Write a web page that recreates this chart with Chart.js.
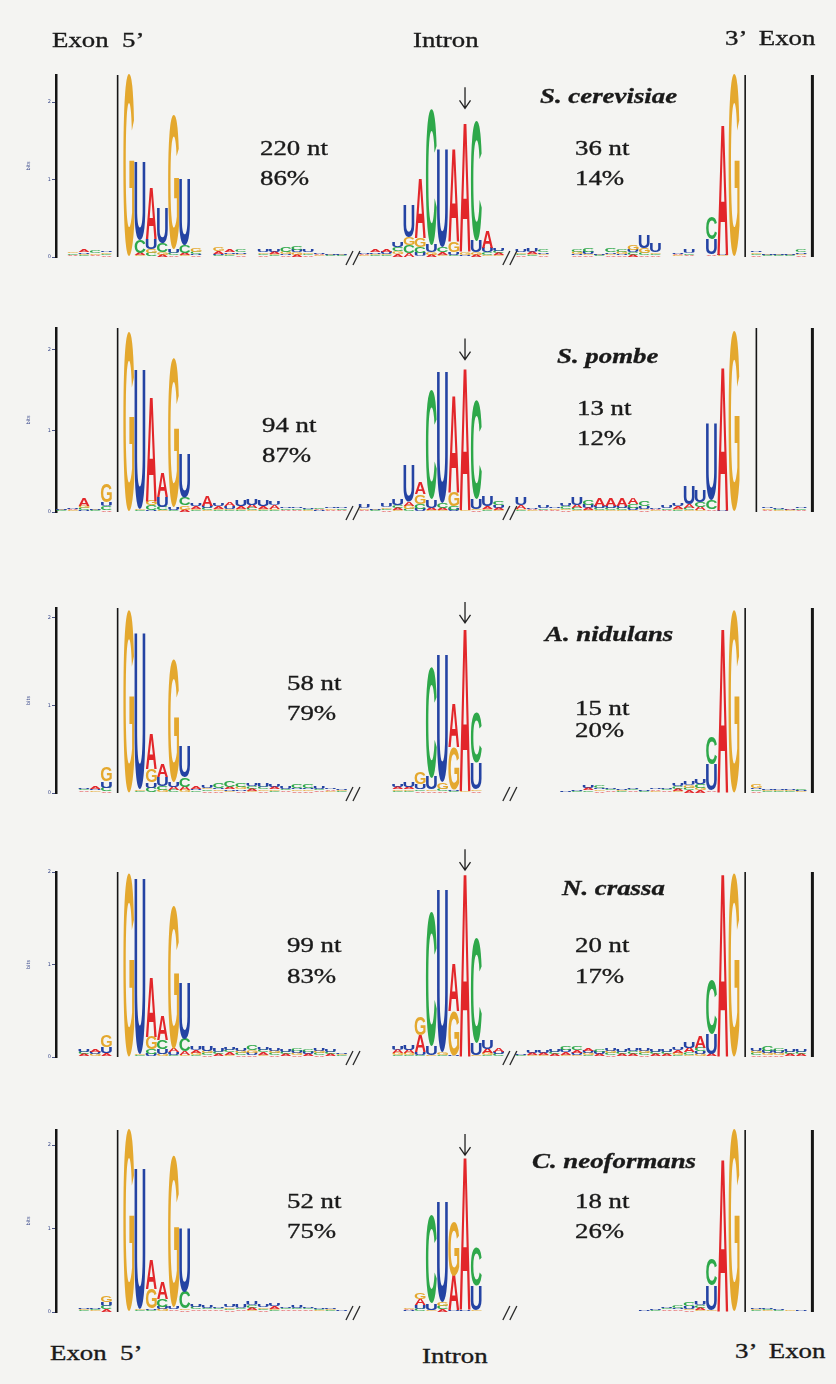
<!DOCTYPE html>
<html>
<head>
<meta charset="utf-8">
<script src="https://cdn.jsdelivr.net/npm/chart.js@4.4.1/dist/chart.umd.min.js"></script>
<style>
html, body { margin: 0; padding: 0; background: #f4f4f2; }
#page { position: relative; width: 836px; height: 1384px; overflow: hidden; background: #f4f4f2; }
#page canvas { position: absolute; left: 0; }
.lbl {
    position: absolute; white-space: pre; color: #1a1a1a;
    font-family: "Liberation Serif", "Times New Roman", serif;
    font-size: 22px; line-height: 22px;
    -webkit-text-stroke: 0.35px #1a1a1a;
    transform: scaleX(1.22); transform-origin: 0 0;
}
.sp { font-weight: bold; font-style: italic; }
</style>
</head>
<body>
<div id="page"></div>
<script>
// bases in column order of every tuple: [A, C, G, U] (bits)
var BASES = ['A', 'C', 'G', 'U'];
var _ = null;

var speciesNames = ['S. cerevisiae', 'S. pombe', 'A. nidulans', 'N. crassa', 'C. neoformans'];
var leftLength = ['220 nt', '94 nt', '58 nt', '99 nt', '52 nt'];
var leftShare = ['86%', '87%', '79%', '83%', '75%'];
var rightLength = ['36 nt', '13 nt', '15 nt', '20 nt', '18 nt'];
var rightShare = ['14%', '12%', '20%', '17%', '26%'];
var regionLabels = ['Exon  5\u2019', 'Intron', '3\u2019  Exon'];
var yTicks = [0, 1, 2];

// 68 positions per logo: exon 5' | intron 5' ... // ... branch ... // ... 3' | exon 3' |
var cerevisiae = [
    _, [.02,.02,.02,.01], [.03,.02,.02,.02], [.02,.03,.02,.01], [.02,.02,.02,.02], _, [0,0,2.35,0], [.03,.17,.02,1.0], [.67,.05,.05,.13], [.03,.12,.03,.45],
    [.02,.03,1.74,.05], [.03,.1,.02,.86], [.02,.03,.05,.02], _, [.04,.02,.05,.02], [.03,.02,.02,.02], [.02,.03,.02,.02], _, [.02,.02,.02,.04], [.03,.02,.02,.03],
    [.02,.06,.03,.02], [.03,.05,.03,.03], [.02,.02,.02,.03], [.02,.01,.01,.02], [.01,.01,.01,.02], [.01,.01,.01,.01], _, [.02,.01,.01,.02], [.03,.02,.02,.02], [.04,.02,.02,.03],
    [.04,.05,.04,.06], [.05,.1,.1,.41], [.77,.08,.12,.05], [.03,1.76,.03,.1], [.04,.06,.03,1.25], [1.2,.03,.14,.03], [1.68,.01,.03,.02], [.03,1.55,.03,.15], [.22,.04,.02,.06], [.03,.03,.02,.04],
    _, [.02,.02,.02,.03], [.03,.02,.02,.05], [.02,.03,.02,.02], _, _, [.02,.04,.03,.02], [.02,.05,.02,.03], [.01,.01,.01,.01], [.02,.05,.02,.02],
    [.02,.04,.03,.02], [.03,.03,.07,.03], [.02,.03,.07,.17], [.02,.02,.02,.12], _, [.02,.01,.01,.02], [.02,.02,.01,.05], _, [.02,.28,.01,.2], [1.7,.01,.01,.01],
    [0,0,2.35,0], _, [.02,.02,.02,.02], [.01,.01,.01,.01], [.01,.01,.01,.01], [.01,.01,.01,.01], [.02,.03,.02,.02], _
];
var pombe = [
    [.01,.01,.01,.01], [.02,.01,.01,.02], [.1,.03,.03,.02], [.01,.01,.01,.01], [.02,.05,.22,.05], _, [0,0,2.22,0], [.01,.01,.02,1.72], [1.3,.06,.06,.02], [.3,.04,.02,.13],
    [.01,.02,1.84,.03], [.03,.1,.05,.55], [.03,.02,.02,.03], [.12,.03,.02,.03], [.03,.02,.02,.03], [.04,.02,.02,.03], [.03,.02,.02,.08], [.04,.03,.02,.08], [.03,.02,.02,.08], [.04,.02,.02,.05],
    [.02,.02,.01,.02], [.02,.02,.01,.02], [.01,.02,.01,.02], [.02,.02,.01,.01], [.02,.01,.02,.02], [.02,.02,.01,.02], _, [.02,.01,.02,.04], [.01,.01,.01,.01], [.02,.02,.02,.05],
    [.03,.03,.02,.08], [.05,.04,.04,.45], [.15,.06,.12,.04], [.03,1.35,.02,.1], [.03,.06,.02,1.62], [1.2,.04,.17,.03], [1.77,.01,.01,0], [.02,1.22,.02,.12], [.03,.02,.02,.12], [.03,.04,.02,.03],
    _, [.04,.02,.02,.1], [.02,.01,.01,.02], [.02,.02,.01,.03], [.02,.01,.02,.02], [.02,.03,.02,.03], [.04,.03,.02,.1], [.03,.06,.02,.04], [.09,.03,.02,.03], [.09,.03,.02,.03],
    [.1,.03,.02,.03], [.08,.05,.02,.03], [.02,.06,.02,.03], [.02,.01,.01,.02], [.02,.02,.01,.03], [.03,.02,.02,.03], [.05,.03,.02,.22], [.04,.06,.02,.14], [.02,.12,.01,.95], [1.78,0,0,.02],
    [0,0,2.24,0], _, _, [.02,.01,.02,.02], [.01,.02,.01,.02], [.02,.01,.01,.01], [.02,.02,.01,.02], _
];
var nidulans = [
    _, _, [.02,.02,.01,.02], [.03,.01,.02,.02], [.02,.04,.17,.07], _, [0,0,2.09,0], [.01,.01,.02,1.78], [.4,.06,.15,.06], [.15,.05,.03,.1],
    [.04,.03,1.4,.06], [.04,.11,.03,.36], [.03,.02,.01,.02], [.02,.02,.02,.03], [.02,.06,.02,.02], [.03,.07,.02,.02], [.02,.05,.03,.02], [.03,.03,.02,.03], [.02,.03,.02,.04], [.03,.02,.02,.03],
    [.02,.02,.01,.03], [.02,.04,.02,.02], [.02,.04,.02,.02], [.02,.02,.01,.03], [.02,.01,.01,.02], [.01,.01,.01,.02], _, _, _, _,
    [.03,.02,.02,.03], [.03,.02,.02,.06], [.02,.02,.14,.06], [.02,1.26,.02,.14], [.02,.03,.08,1.45], [.51,.02,.48,.02], [1.87,.01,.01,0], [.02,.57,.02,.3], _, _,
    _, _, _, _, _, [.01,0,0,.01], [.01,.01,0,.01], [.03,.02,.01,.03], [.02,.03,.02,.02], [.02,.02,.01,.02],
    [.01,.01,.01,.01], [.02,.02,.01,.02], [.01,.01,0,.01], [.02,.01,.01,.02], [.02,.02,.01,.02], [.03,.03,.02,.03], [.03,.03,.03,.04], [.03,.04,.03,.06], [.02,.32,.01,.3], [1.88,0,0,.01],
    [0,0,2.09,0], _, [.02,.02,.04,.02], [.01,.01,.01,.01], [.01,.01,.01,.01], [.01,.01,.01,.01], [.01,.02,.01,.01], _
];
var crassa = [
    _, _, [.02,.02,.01,.02], [.03,.01,.02,.02], [.03,.01,.12,.07], _, [0,0,1.99,0], [.01,.01,.01,1.9], [.65,.05,.14,.03], [.27,.1,.03,.05],
    [.04,.02,1.55,.03], [.04,.14,.02,.61], [.03,.02,.02,.04], [.02,.02,.02,.05], [.02,.02,.01,.04], [.03,.03,.02,.03], [.02,.02,.02,.03], [.02,.06,.03,.02], [.03,.03,.02,.03], [.02,.02,.02,.02],
    [.02,.02,.01,.02], [.02,.03,.02,.02], [.02,.03,.01,.02], [.02,.02,.02,.02], [.02,.02,.01,.02], [.01,.01,.01,.01], _, [.01,0,0,0], [.01,0,0,0], _,
    [.04,.02,.02,.04], [.04,.02,.02,.05], [.18,.02,.2,.03], [.01,1.45,.01,.1], [.01,.01,.03,1.75], [.52,.01,.48,.01], [2.0,0,0,0], [.01,1.14,.01,.13], [.05,.02,.02,.09], [.04,.02,.01,.02],
    _, [.01,.01,0,.01], [.02,.01,.01,.02], [.02,.01,.01,.02], [.02,.02,.01,.02], [.03,.04,.02,.03], [.03,.04,.02,.02], [.03,.02,.02,.02], [.02,.03,.01,.02], [.02,.02,.02,.02],
    [.02,.02,.01,.02], [.02,.03,.01,.03], [.02,.02,.02,.02], [.02,.02,.01,.03], [.02,.02,.01,.02], [.03,.02,.02,.03], [.05,.03,.02,.07], [.12,.04,.03,.03], [.02,.58,.01,.22], [2.0,0,0,0],
    [0,0,1.99,0], _, [.02,.02,.02,.02], [.02,.05,.02,.02], [.02,.03,.02,.02], [.02,.02,.01,.03], [.02,.02,.01,.02], _
];
var neoformans = [
    _, _, [.01,.01,.01,.01], [.01,.02,.01,.02], [.03,.04,.08,.05], _, [0,0,2.18,0], [.01,.01,.01,1.68], [.36,.02,.24,.02], [.2,.1,.03,.03],
    [.02,.01,1.82,.03], [.02,.2,.02,.76], [.02,.03,.01,.03], [.02,.02,.01,.03], [.02,.02,.01,.02], [.02,.02,.02,.03], [.02,.02,.01,.04], [.03,.03,.02,.04], [.02,.02,.02,.03], [.03,.02,.02,.03],
    [.02,.02,.01,.02], [.02,.02,.01,.03], [.02,.02,.01,.02], [.01,.02,.01,.02], [.01,.01,.01,.01], [.01,0,0,.01], _, _, _, _,
    _, [.02,.01,.02,.01], [.07,.03,.08,.05], [.01,1.06,.01,.08], [.03,.04,.05,1.2], [.42,.01,.64,.01], [1.84,0,.01,.01], [.01,.46,.01,.3], _, _,
    _, _, _, _, _, _, _, _, _, _,
    _, _, [.01,0,0,.01], [.01,.01,0,.01], [.02,.02,.01,.02], [.02,.03,.01,.02], [.02,.04,.02,.03], [.03,.03,.02,.04], [.01,.32,.01,.3], [1.85,0,0,0],
    [0,0,2.18,0], _, [.01,.01,.01,.01], [.01,.02,.01,.02], [.01,.01,0,.01], [.01,0,.01,0], [0,.01,0,.01], _
];
var logos = [cerevisiae, pombe, nidulans, crassa, neoformans];

// exon/intron boundaries, sequence breaks and branch point, as position indexes
var innerBounds = [[5, 61], [5, 62], [5, 61], [5, 61], [5, 61]];
var outerBound = 67;
var breaks = [26, 40];
var branchPoint = 36;
var arrowTip = [1.92, 1.88, 1.94, 2.02, 1.88];

// layout of each panel on the page
var panelTop = [75, 328, 608, 872, 1130];
var panelZero = [257, 512, 793, 1057, 1312];
var panelMax = [2.35, 2.27, 2.11, 2.0, 2.18];
var PAD_TOP = 40, PAD_BOTTOM = 16;

var COLORS = { A: '#e2262a', C: '#2ea84a', G: '#e4a82e', U: '#2443a3' };
var LETTER_FONT = 'bold 100px "Liberation Sans", Arial, sans-serif';

var glyphCache = {};
function glyphBox(ctx, ch) {
    if (!glyphCache[ch]) {
        ctx.save();
        ctx.font = LETTER_FONT;
        var m = ctx.measureText(ch);
        ctx.restore();
        glyphCache[ch] = {
            l: m.actualBoundingBoxLeft,
            w: m.actualBoundingBoxLeft + m.actualBoundingBoxRight,
            a: m.actualBoundingBoxAscent,
            h: m.actualBoundingBoxAscent + m.actualBoundingBoxDescent
        };
    }
    return glyphCache[ch];
}

// letter stretched to fill the bar rectangle
function drawGlyph(ctx, ch, x, y, w, h) {
    if (h < 0.25 || w <= 0) return;
    var g = glyphBox(ctx, ch);
    ctx.save();
    ctx.translate(x, y);
    ctx.scale(w / g.w, h / g.h);
    ctx.font = LETTER_FONT;
    ctx.textAlign = 'left';
    ctx.textBaseline = 'alphabetic';
    ctx.fillStyle = COLORS[ch];
    ctx.fillText(ch, g.l, g.a);
    ctx.restore();
}

function vline(ctx, x, top, bottom, width) {
    ctx.save();
    ctx.strokeStyle = '#151515';
    ctx.lineWidth = width;
    ctx.beginPath();
    ctx.moveTo(x, top);
    ctx.lineTo(x, bottom);
    ctx.stroke();
    ctx.restore();
}

var logoPlugin = {
    id: 'logo',
    afterDatasetsDraw: function(chart) {
        var ctx = chart.ctx;
        chart.data.datasets.forEach(function(ds, d) {
            chart.getDatasetMeta(d).data.forEach(function(bar, i) {
                if (!ds.data[i]) return;
                drawGlyph(ctx, ds.letters[i], bar.x - bar.width / 2, bar.y, bar.width, bar.base - bar.y);
            });
        });
    },
    afterDraw: function(chart, args, opts) {
        var ctx = chart.ctx;
        var xs = chart.scales.x, ys = chart.scales.y;
        var top = chart.chartArea.top;
        var base = ys.getPixelForValue(0);
        var k = opts.panel;

        innerBounds[k].forEach(function(idx) {
            vline(ctx, xs.getPixelForValue(idx), top, base, 1.6);
        });
        vline(ctx, xs.getPixelForValue(outerBound), top, base, 3);

        // "//" sequence breaks
        ctx.save();
        ctx.strokeStyle = '#2a2a2a';
        ctx.lineWidth = 1.3;
        breaks.forEach(function(idx) {
            var cx = xs.getPixelForValue(idx);
            [-3.5, 3.5].forEach(function(dx) {
                ctx.beginPath();
                ctx.moveTo(cx + dx - 3.5, base + 8);
                ctx.lineTo(cx + dx + 3.5, base - 6);
                ctx.stroke();
            });
        });
        ctx.restore();

        // arrow over the branch point A
        var ax = xs.getPixelForValue(branchPoint);
        var ay = ys.getPixelForValue(arrowTip[k]);
        ctx.save();
        ctx.strokeStyle = '#222';
        ctx.lineWidth = 1.3;
        ctx.beginPath();
        ctx.moveTo(ax, ay - 21);
        ctx.lineTo(ax, ay);
        ctx.moveTo(ax - 5.5, ay - 8);
        ctx.lineTo(ax, ay);
        ctx.lineTo(ax + 5.5, ay - 8);
        ctx.stroke();
        ctx.restore();
    }
};

var page = document.getElementById('page');

function buildPanel(k) {
    var cols = logos[k];
    var labels = cols.map(function(c, i) { return String(i + 1); });
    // sequence logo order: smallest at the bottom, largest on top
    var ranks = [0, 1, 2, 3].map(function() { return { data: [], letters: [] }; });
    cols.forEach(function(col) {
        var pairs = BASES.map(function(b, j) { return [b, col ? col[j] : 0]; });
        pairs.sort(function(a, b) { return a[1] - b[1]; });
        pairs.forEach(function(p, r) {
            ranks[r].data.push(p[1]);
            ranks[r].letters.push(p[0]);
        });
    });

    var canvas = document.createElement('canvas');
    var h = panelZero[k] - panelTop[k] + PAD_TOP + PAD_BOTTOM;
    canvas.width = 836;
    canvas.height = h;
    canvas.style.top = (panelTop[k] - PAD_TOP) + 'px';
    canvas.style.width = '836px';
    canvas.style.height = h + 'px';
    page.appendChild(canvas);

    new Chart(canvas, {
        type: 'bar',
        data: {
            labels: labels,
            datasets: ranks.map(function(r, i) {
                return {
                    label: 'rank ' + (i + 1),
                    data: r.data,
                    letters: r.letters,
                    backgroundColor: 'rgba(0,0,0,0)',
                    borderWidth: 0,
                    categoryPercentage: 1,
                    barPercentage: 0.97
                };
            })
        },
        plugins: [logoPlugin],
        options: {
            responsive: false,
            animation: false,
            events: [],
            layout: { padding: { left: 26, right: 18, top: PAD_TOP, bottom: PAD_BOTTOM } },
            plugins: {
                legend: { display: false },
                tooltip: { enabled: false },
                logo: { panel: k }
            },
            scales: {
                x: { type: 'category', display: false, stacked: true, offset: true },
                y: {
                    stacked: true,
                    min: 0,
                    max: panelMax[k],
                    afterFit: function(scale) { scale.width = 30; },
                    afterBuildTicks: function(scale) {
                        scale.ticks = yTicks.map(function(v) { return { value: v }; });
                    },
                    border: { display: true, color: '#141414', width: 2.5 },
                    grid: { drawOnChartArea: false, drawTicks: true, tickLength: 4, color: '#4a5585', lineWidth: 1 },
                    ticks: { padding: 1, color: '#3b4a8c', font: { size: 5, family: 'DejaVu Sans' } },
                    title: { display: true, text: 'bits', color: '#3b4a8c', padding: 0, font: { size: 5, family: 'DejaVu Sans' } }
                }
            }
        }
    });
}

for (var k = 0; k < logos.length; k++) buildPanel(k);

// text labels (left x, baseline y)
function addLabel(text, x, baseline, cls) {
    var el = document.createElement('div');
    el.className = 'lbl' + (cls ? ' ' + cls : '');
    el.textContent = text;
    el.style.left = x + 'px';
    el.style.top = (baseline - 18.4) + 'px';
    page.appendChild(el);
}

var headerPos = [[52, 47], [413, 47], [725, 45]];
var footerPos = [[50, 1360], [422, 1363], [735, 1358]];
regionLabels.forEach(function(t, i) {
    addLabel(t, headerPos[i][0], headerPos[i][1]);
    addLabel(t, footerPos[i][0], footerPos[i][1]);
});

var speciesPos = [[540, 103], [557, 363], [545, 641], [562, 895], [532, 1168]];
var leftPos = [[260, 155, 185], [262, 432, 462], [287, 690, 720], [287, 952, 983], [287, 1208, 1238]];
var rightPos = [[575, 155, 185], [577, 415, 445], [575, 715, 737], [575, 952, 983], [575, 1208, 1238]];
speciesNames.forEach(function(name, i) {
    addLabel(name, speciesPos[i][0], speciesPos[i][1], 'sp');
    addLabel(leftLength[i], leftPos[i][0], leftPos[i][1]);
    addLabel(leftShare[i], leftPos[i][0], leftPos[i][2]);
    addLabel(rightLength[i], rightPos[i][0], rightPos[i][1]);
    addLabel(rightShare[i], rightPos[i][0], rightPos[i][2]);
});
</script>
</body>
</html>
